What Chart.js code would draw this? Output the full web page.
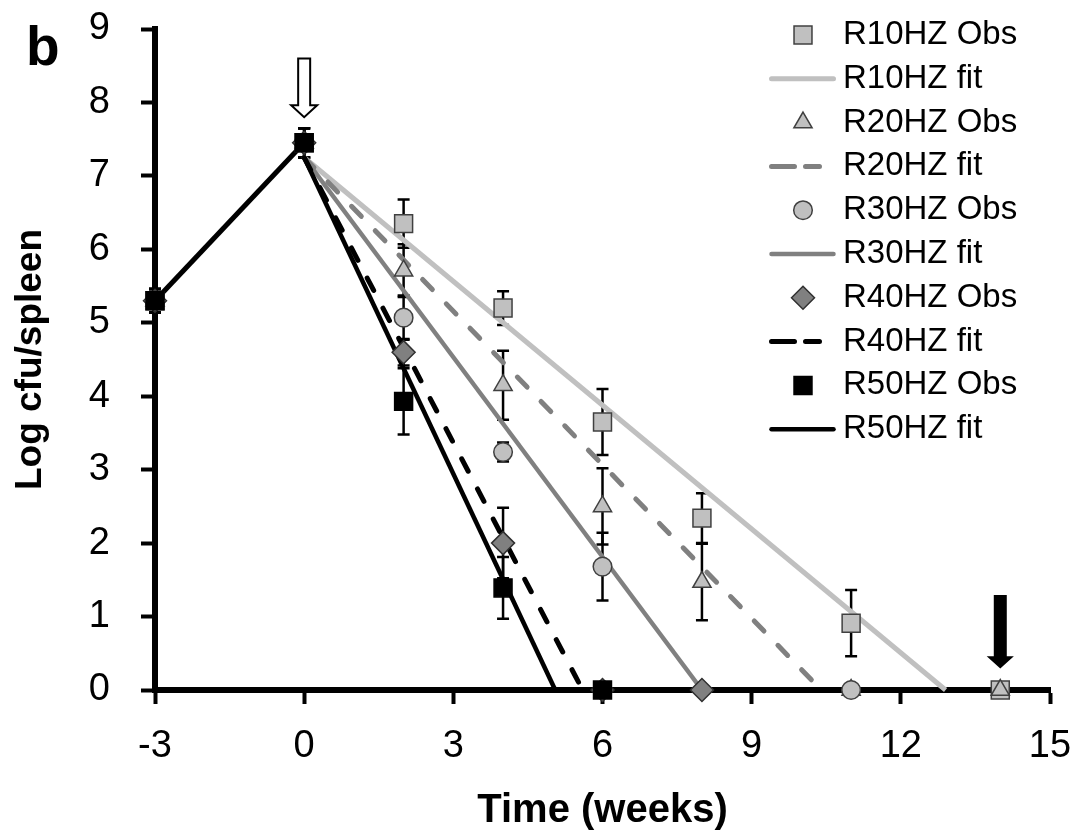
<!doctype html>
<html lang="en">
<head>
<meta charset="utf-8">
<title>Log cfu/spleen</title>
<script src="https://cdn.jsdelivr.net/npm/chart.js@4.4.0/dist/chart.umd.min.js"></script>
<style>
  html, body { margin: 0; padding: 0; background: #fff; }
  #chart { display: block; }
</style>
</head>
<body>
<canvas id="chart" width="1078" height="835"></canvas>
<script>
// observed points (log cfu/spleen) and their error bars, null = not measured
const weeks  = [-3, 0, 2, 4, 6, 8, 11, 14];
const r10Obs = [5.3, 7.45, 6.35, 5.2, 3.65, 2.34, 0.91, 0];
const r10Err = [0.16, 0.2, 0.33, 0.23, 0.45, 0.34, 0.45, 0];
const r20Obs = [5.3, 7.45, 5.71, 4.15, 2.5, 1.47, 0, 0];
const r20Err = [0.16, 0.2, 0.36, 0.47, 0.52, 0.52, 0, 0];
const r30Obs = [5.3, 7.45, 5.07, 3.24, 1.68, null, 0, null];
const r30Err = [0.16, 0.2, 0.3, 0.13, 0.46, null, 0, null];
const r40Obs = [5.3, 7.45, 4.6, 2.0, 0, 0, null, null];
const r40Err = [0.16, 0.2, 0.18, 0.48, 0, 0, null, null];
const r50Obs = [5.3, 7.45, 3.93, 1.39, 0, null, null, null];
const r50Err = [0.16, 0.2, 0.45, 0.42, 0, null, null, null];

// infection phase before treatment
const baselineWeeks = [-3, 0];
const baselineLog = [5.3, 7.45];

// linear fits: all start at week 0 and reach 0 at these weeks
const fitStartWeek = 0;
const fitStartLog = 7.25;
const fitEndWeeks = [12.9, 10.4, 8.0, 5.6, 5.05];

const seriesNames = ['R10HZ', 'R20HZ', 'R30HZ', 'R40HZ', 'R50HZ'];

// arrows (treatment start, end of follow-up)
const arrowWeeks = [0, 14];
const arrowTop = [8.6, 1.28];
const arrowTip = [7.8, 0.31];

const xTicks = [-3, 0, 3, 6, 9, 12, 15];

const obsValues = [r10Obs, r20Obs, r30Obs, r40Obs, r50Obs];
const obsErrors = [r10Err, r20Err, r30Err, r40Err, r50Err];

const obsStyles = [
  { pointStyle: 'rect', radius: 12.7, bg: '#c0c0c0', border: '#404040' },
  { pointStyle: 'triangle', radius: 10.5, bg: '#c0c0c0', border: '#404040' },
  { pointStyle: 'circle', radius: 9.3, bg: '#c0c0c0', border: '#404040' },
  { pointStyle: 'rectRot', radius: 11.5, bg: '#808080', border: '#303030' },
  { pointStyle: 'rect', radius: 12.7, bg: '#000000', border: '#000000' }
];
const fitStyles = [
  { color: '#c0c0c0', width: 5, dash: [] },
  { color: '#808080', width: 5, dash: [14, 20] },
  { color: '#808080', width: 4.5, dash: [] },
  { color: '#000000', width: 5, dash: [14, 20] },
  { color: '#000000', width: 4.5, dash: [] }
];

const FONT = "'Liberation Sans', Arial, sans-serif";
Chart.defaults.font.family = FONT;
Chart.defaults.color = '#000';

const datasets = [];
datasets.push({
  label: 'baseline',
  data: baselineWeeks.map((w, i) => ({ x: w, y: baselineLog[i] })),
  showLine: true,
  borderColor: '#000',
  borderWidth: 5,
  pointRadius: 0,
  order: 20,
  clip: false
});
fitStyles.forEach((s, i) => {
  datasets.push({
    label: seriesNames[i] + ' fit',
    data: [{ x: fitStartWeek, y: fitStartLog }, { x: fitEndWeeks[i], y: 0 }],
    showLine: true,
    borderColor: s.color,
    borderWidth: s.width,
    borderDash: s.dash,
    borderCapStyle: s.dash.length ? 'round' : 'butt',
    pointRadius: 0,
    order: 19 - i,
    clip: false
  });
});
obsStyles.forEach((s, i) => {
  const pts = [];
  weeks.forEach((w, j) => {
    if (obsValues[i][j] !== null) pts.push({ x: w, y: obsValues[i][j], err: obsErrors[i][j] });
  });
  datasets.push({
    label: seriesNames[i] + ' Obs',
    data: pts,
    showLine: false,
    pointStyle: s.pointStyle,
    pointRadius: s.radius,
    pointBackgroundColor: s.bg,
    pointBorderColor: s.border,
    pointBorderWidth: 1.5,
    errorBars: true,
    order: 14 - i,
    clip: false
  });
});

// error bars under the markers
const errorBarPlugin = {
  id: 'errorBars',
  beforeDatasetsDraw(chart) {
    const { ctx, scales: { x, y } } = chart;
    ctx.save();
    ctx.strokeStyle = '#000';
    ctx.lineWidth = 2.5;
    chart.data.datasets.forEach(ds => {
      if (!ds.errorBars) return;
      ds.data.forEach(pt => {
        if (!pt.err) return;
        const px = x.getPixelForValue(pt.x);
        const top = y.getPixelForValue(pt.y + pt.err);
        const bot = y.getPixelForValue(pt.y - pt.err);
        ctx.beginPath();
        ctx.moveTo(px, top); ctx.lineTo(px, bot);
        ctx.moveTo(px - 6, top); ctx.lineTo(px + 6, top);
        ctx.moveTo(px - 6, bot); ctx.lineTo(px + 6, bot);
        ctx.stroke();
      });
    });
    ctx.restore();
  }
};

// arrows, legend and panel letter
const extrasPlugin = {
  id: 'extras',
  afterDatasetsDraw(chart) {
    const { ctx, scales: { x, y } } = chart;
    ctx.save();
    arrowWeeks.forEach((w, i) => {
      const cx = x.getPixelForValue(w);
      const top = y.getPixelForValue(arrowTop[i]);
      const tip = y.getPixelForValue(arrowTip[i]);
      const hollow = i === 0;
      const shaft = hollow ? 6 : 5.5;
      const head = hollow ? 13 : 11;
      const headLen = hollow ? 12 : 10;
      ctx.beginPath();
      ctx.moveTo(cx - shaft, top);
      ctx.lineTo(cx + shaft, top);
      ctx.lineTo(cx + shaft, tip - headLen);
      ctx.lineTo(cx + head, tip - headLen);
      ctx.lineTo(cx, tip);
      ctx.lineTo(cx - head, tip - headLen);
      ctx.lineTo(cx - shaft, tip - headLen);
      ctx.closePath();
      ctx.fillStyle = hollow ? '#fff' : '#000';
      ctx.fill();
      ctx.lineWidth = 2;
      ctx.strokeStyle = '#000';
      ctx.stroke();
    });

    // legend
    const rowY0 = 35, rowH = 43.8, markX = 803, textX = 843;
    ctx.font = '33px ' + FONT;
    ctx.textBaseline = 'middle';
    ctx.textAlign = 'left';
    seriesNames.forEach((name, i) => {
      const yo = rowY0 + rowH * (2 * i);
      const yf = rowY0 + rowH * (2 * i + 1);
      const s = obsStyles[i];
      ctx.fillStyle = s.bg;
      ctx.strokeStyle = s.border;
      ctx.lineWidth = 1.5;
      Chart.helpers.drawPoint(ctx, { pointStyle: s.pointStyle, radius: s.radius, rotation: 0, borderWidth: 1.5 }, markX, yo);
      const f = fitStyles[i];
      ctx.beginPath();
      ctx.lineWidth = f.width;
      ctx.strokeStyle = f.color;
      ctx.lineCap = 'round';
      if (f.dash.length) {
        ctx.setLineDash([23, 11]);
        ctx.moveTo(771.5, yf);
        ctx.lineTo(819.5, yf);
      } else {
        ctx.moveTo(771.5, yf);
        ctx.lineTo(833.5, yf);
      }
      ctx.stroke();
      ctx.setLineDash([]);
      ctx.fillStyle = '#000';
      ctx.fillText(name + ' Obs', textX, yo);
      ctx.fillText(name + ' fit', textX, yf);
    });

    ctx.font = 'bold 55px ' + FONT;
    ctx.textBaseline = 'alphabetic';
    ctx.fillStyle = '#000';
    ctx.fillText('b', 26, 65);
    ctx.restore();
  }
};

new Chart(document.getElementById('chart'), {
  type: 'scatter',
  data: { datasets },
  options: {
    responsive: false,
    animation: false,
    layout: { padding: { top: 29, right: 28, left: 0, bottom: 0 } },
    plugins: { legend: { display: false }, tooltip: { enabled: false } },
    scales: {
      x: {
        type: 'linear',
        min: -3,
        max: 15,
        afterBuildTicks: scale => { scale.ticks = xTicks.map(v => ({ value: v })); },
        afterFit: scale => {
          scale.height = 145;
          scale.paddingLeft = 0;
          scale.paddingRight = 0;
        },
        ticks: { font: { size: 38 }, color: '#000', padding: 20 },
        grid: { drawOnChartArea: false, drawTicks: true, tickLength: 14, tickWidth: 4, tickColor: '#000' },
        border: { color: '#000', width: 6 },
        title: { display: true, text: 'Time (weeks)', font: { size: 40, weight: 'bold' }, color: '#000', padding: { top: 0, bottom: 0 } }
      },
      y: {
        min: 0,
        max: 9,
        afterFit: scale => {
          scale.width = 155;
          scale.paddingTop = 0;
          scale.paddingBottom = 0;
        },
        ticks: { stepSize: 1, font: { size: 38 }, color: '#000', padding: 31 },
        grid: { drawOnChartArea: false, drawTicks: true, tickLength: 14, tickWidth: 4, tickColor: '#000' },
        border: { color: '#000', width: 6 },
        title: { display: true, text: 'Log cfu/spleen', font: { size: 37, weight: 'bold' }, color: '#000', padding: { top: 9, bottom: 0 } }
      }
    }
  },
  plugins: [errorBarPlugin, extrasPlugin]
});
</script>
</body>
</html>
